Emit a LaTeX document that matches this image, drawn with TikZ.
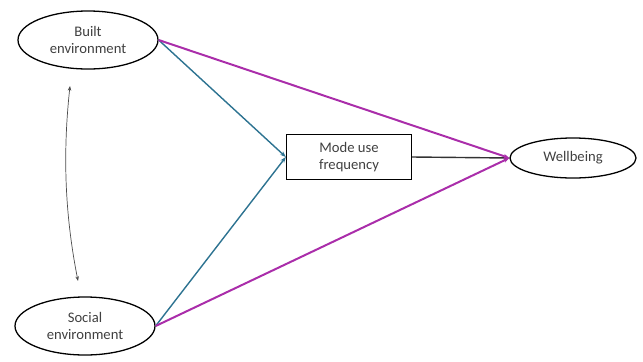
\documentclass[tikz,border=0pt]{standalone}
\usepackage{fontspec}
\setmainfont{Carlito}
\usepackage{xcolor}
\usetikzlibrary{shapes.geometric,arrows.meta}

\definecolor{pathteal}{RGB}{45,115,145}
\definecolor{pathpurple}{RGB}{170,45,170}

\begin{document}
\begin{tikzpicture}[
  x=0.03cm, y=-0.03cm,
  construct/.style={ellipse, draw, line width=1.1pt, minimum width=140*0.03cm, minimum height=58*0.03cm, align=center, font=\fontsize{12.5}{14}\selectfont, text=black!75},
  mediator/.style={rectangle, draw, line width=1.1pt, minimum width=125*0.03cm, minimum height=45*0.03cm, align=center, font=\fontsize{12.5}{14}\selectfont, text=black!75},
  indirect/.style={-{Stealth[length=5pt]}, pathteal, line width=1.2pt},
  direct/.style={-{Stealth[length=5pt]}, pathpurple, line width=1.7pt},
  link/.style={-{Stealth[length=5pt]}, black!80, line width=1.2pt},
  covary/.style={{Stealth[length=4pt]}-{Stealth[length=4pt]}, black!70, line width=0.6pt}
]
\useasboundingbox (0,0) rectangle (643,361);

% Exogenous constructs
\node[construct] (built) at (88,40) {Built\\environment};
\node[construct] (social) at (85,326) {Social\\environment};

% Mediator
\node[mediator] (mode) at (349,157) {Mode use\\frequency};

% Outcome
\node[construct, minimum width=126*0.03cm, minimum height=40*0.03cm] (wellbeing) at (573,158) {Wellbeing};

% Paths through the mediator
\draw[indirect] (built.east) -- (mode.west);
\draw[indirect] (social.east) -- (mode.west);
\draw[link] (mode.east) -- (wellbeing.west);

% Direct paths
\draw[direct] (built.east) -- (wellbeing.west);
\draw[direct] (social.east) -- (wellbeing.west);

% Covariance
\coordinate (covtop) at (70,86);
\coordinate (covbot) at (78,281);
\draw[covary] (covtop) .. controls (62,160) and (66,220) .. (covbot);

\end{tikzpicture}
\end{document}
